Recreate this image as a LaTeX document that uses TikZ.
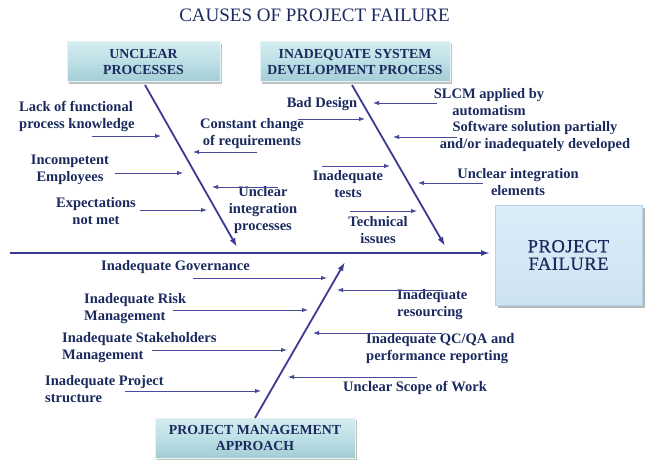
\documentclass[tikz,border=0pt]{standalone}
\usepackage{fontspec}
\setmainfont{Liberation Serif}
\usetikzlibrary{arrows.meta,shadows}
\definecolor{navy}{HTML}{1B2A5E}
\definecolor{arrowc}{HTML}{4A4A9C}
\definecolor{bonec}{HTML}{3A3A92}
\definecolor{boxtop}{HTML}{D4EDF0}
\definecolor{boxmid}{HTML}{BCDFE5}
\definecolor{boxbot}{HTML}{A2CCD4}
\definecolor{boxedge}{HTML}{E6F4F6}
\definecolor{pftop}{HTML}{DCEDF9}
\definecolor{pfbot}{HTML}{CDE2F2}
\definecolor{pfedge}{HTML}{B8D2E6}
\begin{document}
\begin{tikzpicture}[x=1pt,y=-1pt,
  lbl/.style={font=\fontsize{14.5}{17}\selectfont\bfseries, text=navy, inner sep=0pt},
  catbox/.style={font=\fontsize{13.8}{16}\selectfont\bfseries, text=navy, align=center,
    top color=boxtop, bottom color=boxbot, middle color=boxmid, draw=boxedge, line width=1pt,
    drop shadow={shadow xshift=2pt, shadow yshift=-2pt, opacity=0.35, fill=black!70},
    inner sep=0pt},
  pfbox/.style={font=\fontsize{18.5}{17.5}\selectfont\addfontfeatures{LetterSpace=3,FakeBold=0.6}, text=navy, align=center,
    top color=pftop, bottom color=pfbot, draw=pfedge, line width=1pt,
    drop shadow={shadow xshift=2.5pt, shadow yshift=-2.5pt, opacity=0.4, fill=black!70},
    inner sep=0pt},
  subarr/.style={draw=arrowc, line width=0.9pt, -{Latex[length=6pt,width=4.5pt]}},
  bone/.style={draw=bonec, line width=1.8pt, -{Latex[length=9pt,width=6pt]}},
  spine/.style={draw=bonec, line width=2pt, -{Latex[length=9pt,width=6pt]}}
]
\useasboundingbox (0,0) rectangle (648,468);

% title
\node[font=\fontsize{19}{22}\selectfont, text=navy, inner sep=0pt] (title) at (314.5,15) {CAUSES OF PROJECT FAILURE};

% category boxes
\node[catbox, minimum width=153pt, minimum height=40pt] (up) at (143.5,62) {UNCLEAR\\PROCESSES};
\node[catbox, minimum width=190pt, minimum height=40pt] (isdp) at (355,62) {INADEQUATE SYSTEM\\DEVELOPMENT PROCESS};
\node[catbox, minimum width=200pt, minimum height=40pt] (pm) at (255,438) {PROJECT MANAGEMENT\\APPROACH};
\node[pfbox, minimum width=147pt, minimum height=100pt] (pf) at (568.5,255) {PROJECT\\FAILURE};

% spine and bones
\coordinate (sp0) at (10,253);
\coordinate (sp1) at (490,253);
\draw[spine] (sp0) -- (sp1);

\coordinate (b1s) at (145,85);  \coordinate (b1e) at (237,247);
\coordinate (b2s) at (352,85);  \coordinate (b2e) at (445,246);
\coordinate (b3s) at (255,418); \coordinate (b3e) at (345,262);
\draw[bone] (b1s) -- (b1e);
\draw[bone] (b2s) -- (b2e);
\draw[bone] (b3s) -- (b3e);

% upper-left causes
\node[lbl, align=left, anchor=west] (lack) at (19,116.5) {Lack of functional\\process knowledge};
\node[lbl, align=center] (incomp) at (70,169.5) {Incompetent\\Employees};
\node[lbl, align=center] (expect) at (96,211) {Expectations\\not met};
\node[lbl, align=center] (constant) at (252,134) {Constant change\\of requirements};
\node[lbl, align=center] (uproc) at (263,210.5) {Unclear\\integration\\processes};

\coordinate (a1s) at (92,136);  \coordinate (a1e) at (161,136);
\coordinate (a2s) at (115,173); \coordinate (a2e) at (183,173);
\coordinate (a3s) at (140,210); \coordinate (a3e) at (207,210);
\coordinate (a4s) at (257,152); \coordinate (a4e) at (193,152);
\coordinate (a5s) at (278,187); \coordinate (a5e) at (212,187);
\draw[subarr] (a1s) -- (a1e);
\draw[subarr] (a2s) -- (a2e);
\draw[subarr] (a3s) -- (a3e);
\draw[subarr] (a4s) -- (a4e);
\draw[subarr] (a5s) -- (a5e);

% upper-right causes
\node[lbl] (bad) at (322,104) {Bad Design};
\node[lbl, align=center] (slcm) at (489,102.5) {SLCM applied by\\automatism};
\node[lbl, align=center] (soft) at (535,136.5) {Software solution partially\\and/or inadequately developed};
\node[lbl, align=center] (tests) at (348,184) {Inadequate\\tests};
\node[lbl, align=center] (uie) at (518,182.5) {Unclear integration\\elements};
\node[lbl, align=center] (tech) at (378,230.5) {Technical\\issues};

\coordinate (c1s) at (298,119); \coordinate (c1e) at (365,119);
\coordinate (c2s) at (437,103); \coordinate (c2e) at (373,103);
\coordinate (c3s) at (457,137); \coordinate (c3e) at (393,137);
\coordinate (c4s) at (322,166); \coordinate (c4e) at (390,166);
\coordinate (c5s) at (483,183); \coordinate (c5e) at (418,183);
\coordinate (c6s) at (350,211); \coordinate (c6e) at (417,211);
\draw[subarr] (c1s) -- (c1e);
\draw[subarr] (c2s) -- (c2e);
\draw[subarr] (c3s) -- (c3e);
\draw[subarr] (c4s) -- (c4e);
\draw[subarr] (c5s) -- (c5e);
\draw[subarr] (c6s) -- (c6e);

% lower causes
\node[lbl] (gov) at (175.5,267) {Inadequate Governance};
\node[lbl, align=left, anchor=west] (risk) at (84,308.5) {Inadequate Risk\\Management};
\node[lbl, align=left, anchor=west] (stake) at (62,348) {Inadequate Stakeholders\\Management};
\node[lbl, align=left, anchor=west] (pstruct) at (45,389) {Inadequate Project\\structure};
\node[lbl, align=left, anchor=west] (resrc) at (397,305) {Inadequate\\resourcing};
\node[lbl, align=left, anchor=west] (qc) at (366,349) {Inadequate QC/QA and\\performance reporting};
\node[lbl] (scope) at (415,388) {Unclear Scope of Work};

\coordinate (d1s) at (193,278); \coordinate (d1e) at (327,278);
\coordinate (d2s) at (173,310); \coordinate (d2e) at (308,310);
\coordinate (d3s) at (152,350); \coordinate (d3e) at (287,350);
\coordinate (d4s) at (125,391); \coordinate (d4e) at (261,391);
\coordinate (d5s) at (443,290); \coordinate (d5e) at (337,290);
\coordinate (d6s) at (442,333); \coordinate (d6e) at (313,333);
\coordinate (d7s) at (417,377); \coordinate (d7e) at (288,377);
\draw[subarr] (d1s) -- (d1e);
\draw[subarr] (d2s) -- (d2e);
\draw[subarr] (d3s) -- (d3e);
\draw[subarr] (d4s) -- (d4e);
\draw[subarr] (d5s) -- (d5e);
\draw[subarr] (d6s) -- (d6e);
\draw[subarr] (d7s) -- (d7e);
\end{tikzpicture}
\end{document}
